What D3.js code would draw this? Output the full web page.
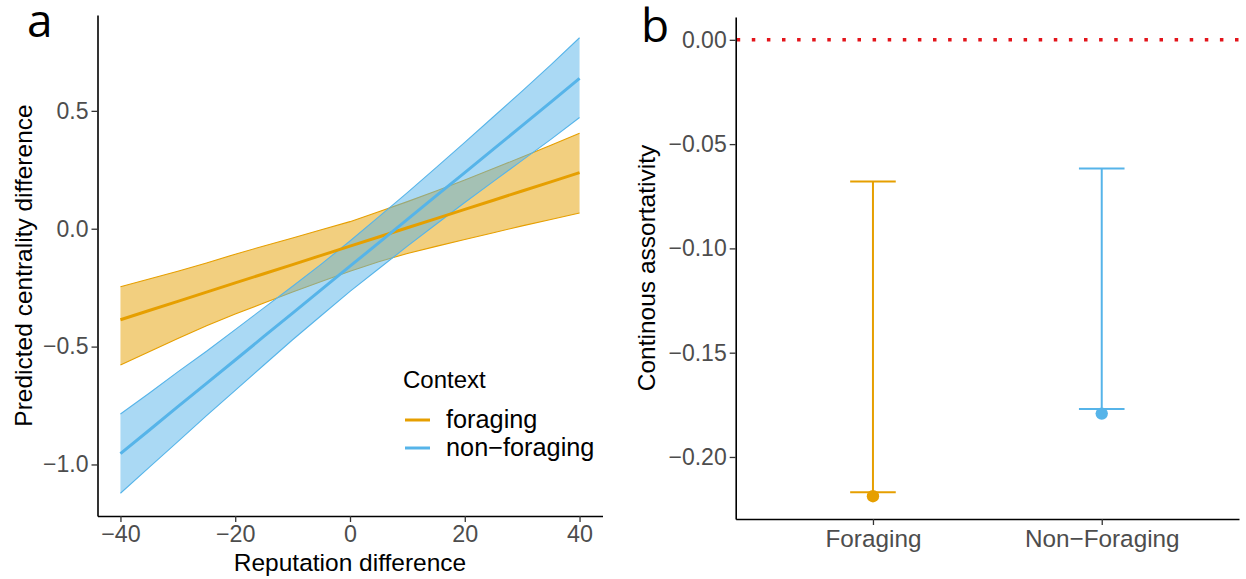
<!DOCTYPE html>
<html><head><meta charset="utf-8">
<script src="https://cdn.jsdelivr.net/npm/d3@7"></script>
<style>
body{margin:0;background:#fff}
svg{display:block}
text{font-family:"Liberation Sans", Arial, Helvetica, sans-serif}
</style>
</head><body>
<svg id="chart" width="1246" height="579"></svg>
<script>
// ---------- Panel a data ----------
const reputationX      = [-40, -35, -30, -25, -20, -15, -10, -5, 0, 5, 10, 15, 20, 25, 30, 35, 40];
const foragingFit      = [-0.386, -0.347, -0.308, -0.269, -0.230, -0.191, -0.152, -0.113, -0.074, -0.035, 0.004, 0.043, 0.082, 0.121, 0.160, 0.199, 0.238];
const foragingUpper    = [-0.246, -0.213, -0.180, -0.145, -0.108, -0.073, -0.039, -0.004, 0.030, 0.072, 0.115, 0.160, 0.207, 0.255, 0.304, 0.354, 0.405];
const foragingLower    = [-0.578, -0.522, -0.466, -0.412, -0.362, -0.315, -0.268, -0.224, -0.180, -0.140, -0.105, -0.075, -0.046, -0.017, 0.012, 0.039, 0.067];
const nonForagingFit   = [-0.954, -0.855, -0.755, -0.656, -0.557, -0.457, -0.358, -0.258, -0.159, -0.060, 0.040, 0.139, 0.238, 0.338, 0.437, 0.537, 0.638];
const nonForagingUpper = [-0.786, -0.698, -0.607, -0.520, -0.428, -0.336, -0.244, -0.150, -0.052, 0.050, 0.153, 0.259, 0.366, 0.475, 0.584, 0.695, 0.810];
const nonForagingLower = [-1.122, -1.012, -0.903, -0.793, -0.686, -0.578, -0.471, -0.368, -0.266, -0.170, -0.074, 0.019, 0.111, 0.201, 0.290, 0.379, 0.472];
const contextLabels    = ["foraging", "non\u2212foraging"];
const contextColors    = ["#E69F00", "#56B4E9"];
const leftXTicks       = [-40, -20, 0, 20, 40];
const leftYTicks       = [-1.0, -0.5, 0.0, 0.5];

// ---------- Panel b data ----------
const assortCategories = ["Foraging", "Non\u2212Foraging"];
const assortObserved   = [-0.2188, -0.1792];
const assortCILow      = [-0.2169, -0.1770];
const assortCIHigh     = [-0.0679, -0.0617];
const rightYTicks      = [-0.20, -0.15, -0.10, -0.05, 0.00];
const referenceLine    = [0];

// ---------- helpers ----------
const svg = d3.select("#chart");
const TICK_COL = "#333333", LABEL_COL = "#4d4d4d";
function expand(lo, hi){ const r = hi - lo; return [lo - 0.05*r, hi + 0.05*r]; }
function styleAxis(size){
  return function(g){
    g.select(".domain").attr("stroke", "#000").attr("stroke-width", 1.6);
    g.selectAll(".tick line").attr("stroke", TICK_COL).attr("stroke-width", 1.3);
    g.selectAll(".tick text").attr("fill", LABEL_COL).style("font-size", size + "px")
      .attr("font-family", null);
  };
}

// ---------- Panel a ----------
const A = {left: 97.5, right: 602.5, top: 15, bottom: 516};
const seriesA = [
  {fit: foragingFit, up: foragingUpper, lo: foragingLower, color: contextColors[0], label: contextLabels[0]},
  {fit: nonForagingFit, up: nonForagingUpper, lo: nonForagingLower, color: contextColors[1], label: contextLabels[1]}
];
const allA = [].concat(...seriesA.map(s => s.up.concat(s.lo, s.fit)));
const xA = d3.scaleLinear().domain(expand(d3.min(reputationX), d3.max(reputationX))).range([A.left, A.right]);
const yA = d3.scaleLinear().domain(expand(d3.min(allA), d3.max(allA))).range([A.bottom, A.top]);

const gA = svg.append("g");
seriesA.forEach(s => {
  const pts = reputationX.map((x, i) => ({x, fit: s.fit[i], up: s.up[i], lo: s.lo[i]}));
  gA.append("path").datum(pts)
    .attr("d", d3.area().x(d => xA(d.x)).y0(d => yA(d.lo)).y1(d => yA(d.up)))
    .attr("fill", s.color).attr("fill-opacity", 0.5).attr("stroke", "none");
  gA.append("path").datum(pts)
    .attr("d", d3.line().x(d => xA(d.x)).y(d => yA(d.up)))
    .attr("fill", "none").attr("stroke", s.color).attr("stroke-width", 1.1);
  gA.append("path").datum(pts)
    .attr("d", d3.line().x(d => xA(d.x)).y(d => yA(d.lo)))
    .attr("fill", "none").attr("stroke", s.color).attr("stroke-width", 1.1);
  s.pts = pts;
});
seriesA.forEach(s => {
  gA.append("path").datum(s.pts)
    .attr("d", d3.line().x(d => xA(d.x)).y(d => yA(d.fit)))
    .attr("fill", "none").attr("stroke", s.color).attr("stroke-width", 3);
});

svg.append("g").attr("transform", `translate(0,${A.bottom})`)
  .call(d3.axisBottom(xA).tickValues(leftXTicks).tickSize(6).tickPadding(3).tickSizeOuter(0).tickFormat(d3.format("d")))
  .call(styleAxis(23.3));
svg.append("g").attr("transform", `translate(${A.left},0)`)
  .call(d3.axisLeft(yA).tickValues(leftYTicks).tickSize(6).tickPadding(3).tickSizeOuter(0).tickFormat(d3.format(".1f")))
  .call(styleAxis(23));

svg.append("text").attr("x", (A.left + A.right)/2).attr("y", 571).attr("text-anchor", "middle")
  .style("font-size", "24.5px").attr("fill", "#000").text("Reputation difference");
svg.append("text").attr("transform", `translate(31.5,${(A.top + A.bottom)/2}) rotate(-90)`).attr("text-anchor", "middle")
  .style("font-size", "24.5px").attr("fill", "#000").text("Predicted centrality difference");

// legend
const lg = svg.append("g").attr("transform", "translate(403,0)");
lg.append("text").attr("x", 0).attr("y", 388).style("font-size", "24px").attr("fill", "#000").text("Context");
seriesA.forEach((s, i) => {
  const yy = 420 + i*28;
  lg.append("line").attr("x1", 2).attr("x2", 27).attr("y1", yy).attr("y2", yy)
    .attr("stroke", s.color).attr("stroke-width", 3);
  lg.append("text").attr("x", 43).attr("y", yy + 8).style("font-size", "25.3px").attr("fill", "#000").text(s.label);
});

svg.append("text").attr("x", 27).attr("y", 37).style("font-family", "'Open Sans', 'DejaVu Sans', sans-serif")
  .style("font-size", "46px").attr("fill", "#000").text("a");

// ---------- Panel b ----------
const B = {left: 735.7, right: 1239, top: 17, bottom: 519};
const xB = d3.scalePoint().domain(assortCategories).range([B.left, B.right]).padding(0.6);
const allB = assortObserved.concat(assortCILow, assortCIHigh, referenceLine);
const yB = d3.scaleLinear().domain(expand(d3.min(allB), d3.max(allB))).range([B.bottom, B.top]);

const gB = svg.append("g");
referenceLine.forEach(v => {
  gB.append("line").attr("x1", B.left + 1).attr("x2", B.right).attr("y1", yB(v)).attr("y2", yB(v))
    .attr("stroke", "#e3141b").attr("stroke-width", 3.5).attr("stroke-dasharray", "3.5 11.6");
});
const capHalf = 22.8;
assortCategories.forEach((c, i) => {
  const col = contextColors[i], cx = xB(c);
  gB.append("line").attr("x1", cx).attr("x2", cx).attr("y1", yB(assortCIHigh[i])).attr("y2", yB(assortCILow[i]))
    .attr("stroke", col).attr("stroke-width", 2);
  [assortCIHigh[i], assortCILow[i]].forEach(v => {
    gB.append("line").attr("x1", cx - capHalf).attr("x2", cx + capHalf).attr("y1", yB(v)).attr("y2", yB(v))
      .attr("stroke", col).attr("stroke-width", 2);
  });
  gB.append("circle").attr("cx", cx).attr("cy", yB(assortObserved[i])).attr("r", 6.2).attr("fill", col);
});

svg.append("g").attr("transform", `translate(0,${B.bottom})`)
  .call(d3.axisBottom(xB).tickSize(6).tickPadding(5).tickSizeOuter(0))
  .call(styleAxis(24.3));
svg.append("g").attr("transform", `translate(${B.left},0)`)
  .call(d3.axisLeft(yB).tickValues(rightYTicks).tickSize(6).tickPadding(3).tickSizeOuter(0).tickFormat(d3.format(".2f")))
  .call(styleAxis(23));

svg.append("text").attr("transform", `translate(655,${(B.top + B.bottom)/2}) rotate(-90)`).attr("text-anchor", "middle")
  .style("font-size", "24.5px").attr("fill", "#000").text("Continous assortativity");

svg.append("text").attr("x", 641).attr("y", 42).style("font-family", "'Open Sans', 'DejaVu Sans', sans-serif")
  .style("font-size", "46px").attr("fill", "#000").text("b");
</script>
</body></html>
